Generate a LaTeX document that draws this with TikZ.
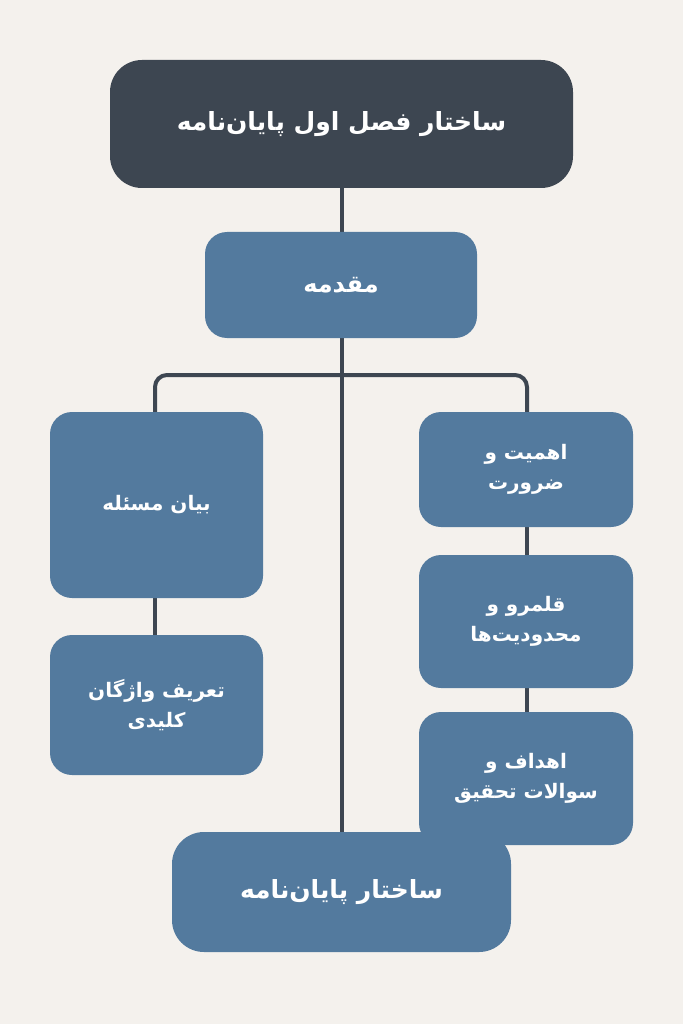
\documentclass[tikz,border=0pt]{standalone}
\usepackage{fontspec}
\TeXXeTstate=1
\newfontfamily\arabicfont[Script=Arabic]{DejaVu Sans}
\definecolor{bg}{HTML}{F4F1ED}
\definecolor{dark}{HTML}{3D4651}
\definecolor{blu}{HTML}{537A9E}
\tikzset{
 bx/.style={fill=blu, rounded corners=22pt, text=white, font=\arabicfont\bfseries\fontsize{20}{30}\selectfont, align=center},
 ln/.style={draw=dark, line width=4pt}
}
\newcommand{\R}[1]{\beginR #1\endR}
\begin{document}
\begin{tikzpicture}[x=1pt,y=-1pt]
\fill[bg] (0,0) rectangle (683,1024);
\useasboundingbox (0,0) rectangle (683,1024);
% connectors first
\coordinate (bl) at (155,375);
\coordinate (br) at (527,375);
\draw[ln] (342,188) -- (342,232);
\draw[ln] (342,338) -- (342,832);
\draw[ln, rounded corners=12pt] (155,412) -- (bl) -- (br) -- (527,412);
\draw[ln] (155,598) -- (155,635);
\draw[ln] (527,527) -- (527,555);
\draw[ln] (527,688) -- (527,712);
% boxes
\node[bx, fill=dark, rounded corners=32pt, minimum width=463pt, minimum height=128pt, font=\arabicfont\bfseries\fontsize{25}{30}\selectfont] (t) at (341.5,124) {\R{ساختار فصل اول پایان‌نامه}};
\node[bx, minimum width=272pt, minimum height=106pt, font=\arabicfont\bfseries\fontsize{24}{30}\selectfont] (m) at (341,285) {\R{مقدمه}};
\node[bx, minimum width=213pt, minimum height=186pt] (a) at (156.5,505) {\R{بیان مسئله}};
\node[bx, minimum width=213pt, minimum height=140pt] (b) at (156.5,705) {\R{تعریف واژگان}\\\R{کلیدی}};
\node[bx, minimum width=214pt, minimum height=115pt] (c) at (526,469.5) {\R{اهمیت و}\\\R{ضرورت}};
\node[bx, minimum width=214pt, minimum height=133pt] (d) at (526,621.5) {\R{قلمرو و}\\\R{محدودیت‌ها}};
\node[bx, minimum width=214pt, minimum height=133pt] (e) at (526,778.5) {\R{اهداف و}\\\R{سوالات تحقیق}};
\node[bx, minimum width=339pt, minimum height=120pt, rounded corners=32pt, font=\arabicfont\bfseries\fontsize{25}{30}\selectfont] (f) at (341.5,892) {\R{ساختار پایان‌نامه}};
\end{tikzpicture}
\end{document}
